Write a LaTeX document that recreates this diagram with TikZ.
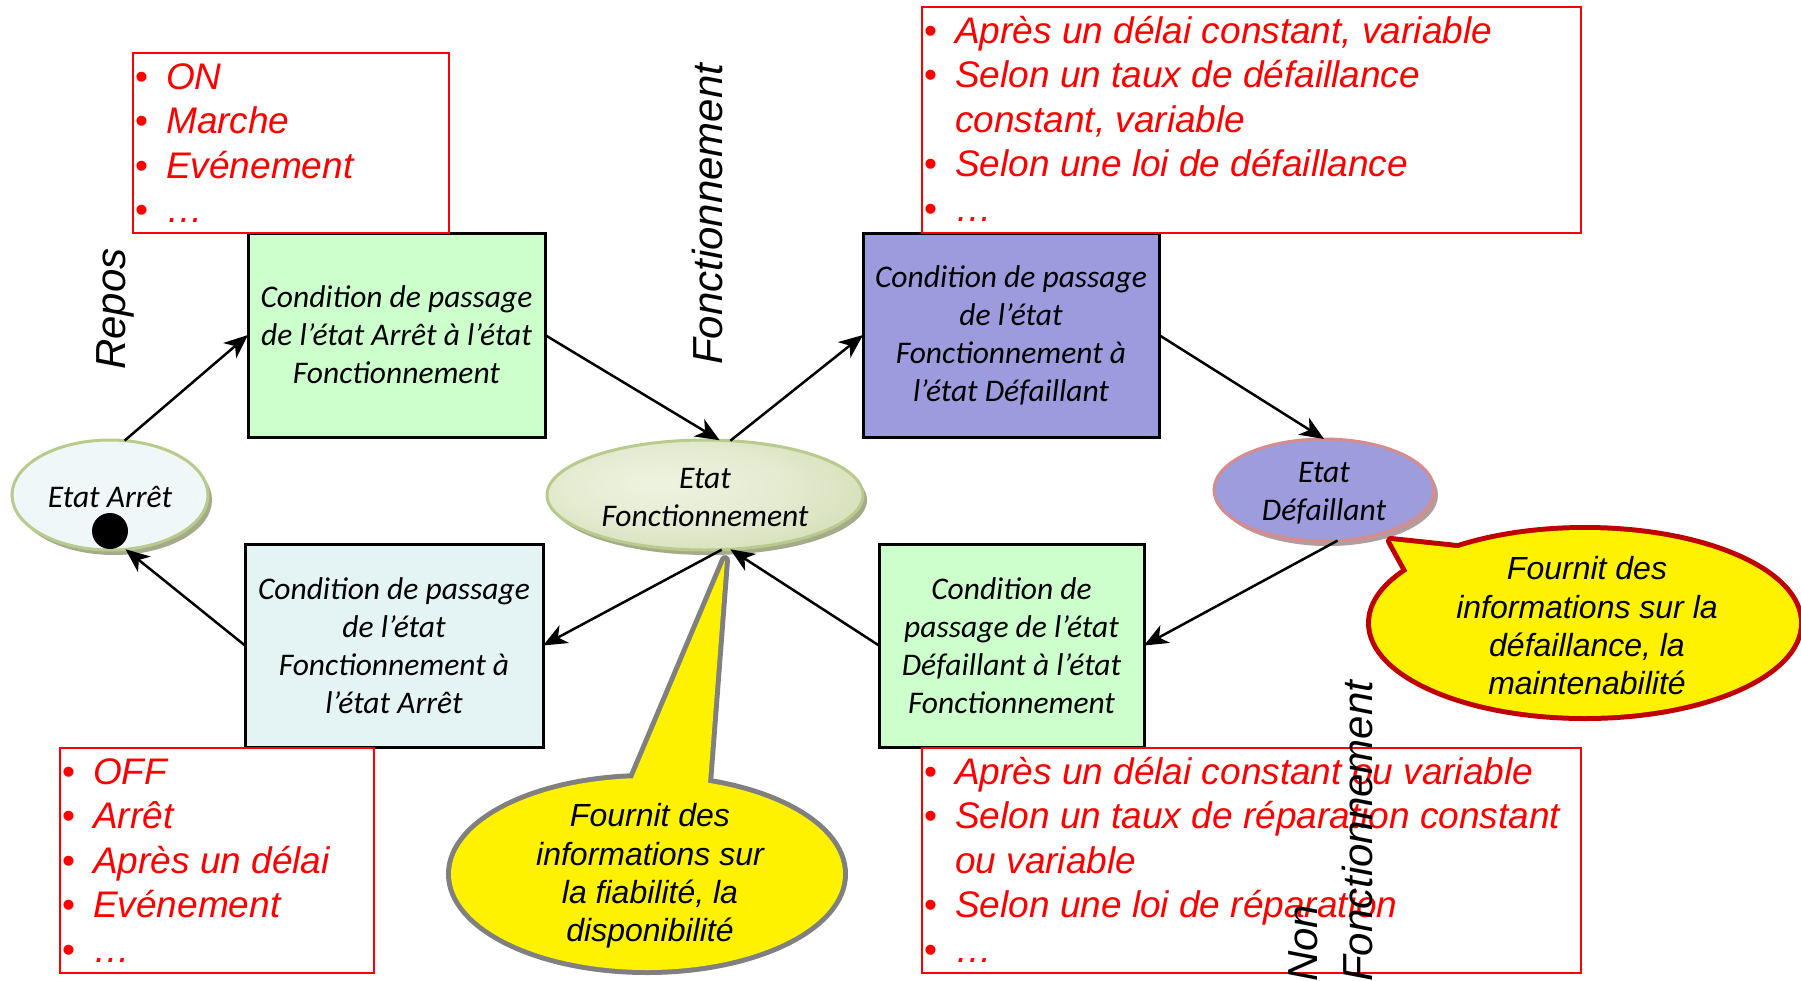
\documentclass[tikz,border=0pt]{standalone}
\usepackage{fontspec}
\setmainfont{Carlito}
\newfontfamily\ari{Liberation Sans}
\usetikzlibrary{arrows.meta,shapes.geometric}
\definecolor{condgreen}{HTML}{CCFFCC}
\definecolor{condpurple}{HTML}{9B9BDD}
\definecolor{condcyan}{HTML}{E4F4F4}
\definecolor{arretfill}{HTML}{EFF7F9}
\definecolor{ellborder}{HTML}{B8CB8C}
\definecolor{ellshadow}{HTML}{A3AB8A}
\definecolor{deffill}{HTML}{9D9DDD}
\definecolor{defborder}{HTML}{D68C8C}
\definecolor{defshadow}{HTML}{B39C9C}
\definecolor{bubgrey}{HTML}{808080}
\definecolor{bubred}{HTML}{C00000}
\definecolor{fcin}{HTML}{EEF2E0}
\definecolor{fcmida}{HTML}{E6ECD3}
\definecolor{fcmidb}{HTML}{CAD6A6}
\definecolor{fcout}{HTML}{C2D098}
\pgfdeclareradialshading{fcshade}{\pgfpoint{-8bp}{6bp}}{color(0bp)=(fcin); color(16bp)=(fcmida); color(42bp)=(fcmidb); color(50bp)=(fcout)}
\newcommand\bul{\makebox[31pt][l]{\upshape\textbullet}}
\newcommand\ind{\hspace*{31pt}}
\begin{document}
\begin{tikzpicture}[x=1pt,y=-1pt,
  cond/.style={draw=black, line width=3pt, inner sep=0pt, outer sep=0pt, align=center,
    font=\itshape\fontsize{31.5}{38}\selectfont},
  state/.style={ellipse, draw=ellborder, line width=3pt, inner sep=0pt, outer sep=0pt},
  stxt/.style={inner sep=0pt, align=center, font=\itshape\fontsize{31.5}{38}\selectfont},
  redbox/.style={draw=red, line width=2pt, inner sep=0pt, outer sep=0pt},
  redtxt/.style={inner sep=0pt, text=red, font=\ari\itshape\fontsize{37}{44.5}\selectfont},
  lbl/.style={inner sep=0pt, font=\ari\itshape\fontsize{42}{55}\selectfont},
  bubtxt/.style={inner sep=0pt, align=center, font=\ari\itshape\fontsize{32}{38.3}\selectfont},
  arr/.style={-{Stealth[length=24pt,width=20pt,inset=7pt]}, line width=2.5pt}]
\useasboundingbox (0,0) rectangle (1801,980);

% ellipse shadows
\fill[ellshadow] (114,500) ellipse [x radius=98, y radius=55];
\fill[ellshadow] (709,500) ellipse [x radius=158, y radius=55];
\fill[defshadow] (1328,495) ellipse [x radius=110, y radius=51];

% states
\node[state, fill=arretfill, minimum width=196, minimum height=110] (ea) at (110,495) {};
\node[stxt] (eat) at (110,497) {Etat Arrêt};
\node[circle, fill=black, minimum size=36, inner sep=0pt] (dot) at (110,531) {};
\node[state, shading=fcshade, minimum width=316, minimum height=110] (ef) at (705,495) {};
\node[stxt] (eft) at (705,498) {Etat\\Fonctionnement};
\node[state, fill=deffill, draw=defborder, minimum width=220, minimum height=102] (ed) at (1324,490) {};
\node[stxt] (edt) at (1324,493) {Etat\\Défaillant};

% condition boxes
\node[cond, fill=condgreen, minimum width=297, minimum height=204] (g1) at (396.5,335)
  {Condition de passage\\de l’état Arrêt à l’état\\Fonctionnement};
\node[cond, fill=condpurple, minimum width=296, minimum height=204] (pb) at (1011,335)
  {Condition de passage\\de l’état\\Fonctionnement à\\l’état Défaillant};
\node[cond, fill=condcyan, minimum width=298, minimum height=203] (cb) at (394,645.5)
  {Condition de passage\\de l’état\\Fonctionnement à\\l’état Arrêt};
\node[cond, fill=condgreen, minimum width=265, minimum height=203] (g2) at (1011.5,645.5)
  {Condition de\\passage de l’état\\Défaillant à l’état\\Fonctionnement};

% red lists
\node[redbox, minimum width=316, minimum height=180] (rtl) at (291,143) {};
\node[redbox, minimum width=659, minimum height=226] (rtr) at (1251.5,120) {};
\node[redbox, minimum width=314, minimum height=225] (rbl) at (217,860.5) {};
\node[redbox, minimum width=659, minimum height=225] (rbr) at (1251.5,860.5) {};
\node[redtxt, anchor=base west] (ltl) at (135,89)
  {\parbox[t]{300pt}{\bul ON\\\bul Marche\\\bul Evénement\\\bul …}};
\node[redtxt, anchor=base west] (ltr) at (924,43)
  {\parbox[t]{650pt}{\bul Après un délai constant, variable\\\bul Selon un taux de défaillance\\\ind constant, variable\\\bul Selon une loi de défaillance\\\bul …}};
\node[redtxt, anchor=base west] (lbl) at (62,784)
  {\parbox[t]{300pt}{\bul OFF\\\bul Arrêt\\\bul Après un délai\\\bul Evénement\\\bul …}};
\node[redtxt, anchor=base west] (lbr) at (924,784)
  {\parbox[t]{650pt}{\bul Après un délai constant ou variable\\\bul Selon un taux de réparation constant\\\ind ou variable\\\bul Selon une loi de réparation\\\bul …}};

% bubbles
\draw[bubgrey, line width=10pt, line join=round] (647,874) ellipse [x radius=196, y radius=96];
\draw[bubgrey, line width=10pt, line join=round] (725,560) -- (633,778) -- (650,840) -- (705,840) -- (708,783) -- cycle;
\fill[yellow] (647,874) ellipse [x radius=196, y radius=96];
\fill[yellow] (725,560) -- (633,778) -- (650,840) -- (705,840) -- (708,783) -- cycle;
\node[bubtxt] (b1) at (650,876) {Fournit des\\informations sur\\la fiabilité, la\\disponibilité};

\draw[bubred, line width=10pt, line join=round] (1585,623) ellipse [x radius=214, y radius=93];
\draw[bubred, line width=10pt, line join=round] (1391,541) -- (1408,572) -- (1460,610) -- (1500,600) -- (1466,549) -- cycle;
\fill[yellow] (1585,623) ellipse [x radius=214, y radius=93];
\fill[yellow] (1391,541) -- (1408,572) -- (1460,610) -- (1500,600) -- (1466,549) -- cycle;
\node[bubtxt] (b2) at (1587,626) {Fournit des\\informations sur la\\défaillance, la\\maintenabilité};

% arrows
\draw[arr] (ea.75) -- (g1.west);
\draw[arr] (g1.east) -- (ef.75);
\draw[arr] (ef.65) -- (pb.west);
\draw[arr] (pb.east) -- (ed.north);
\draw[arr] (ed.-75) -- (g2.east);
\draw[arr] (g2.west) -- (ef.-65);
\draw[arr] (ef.-73) -- (cb.east);
\draw[arr] (cb.west) -- (ea.-74);

% labels
\node[lbl, rotate=90, anchor=base west] (repos) at (125,370) {Repos};
\node[lbl, rotate=90, anchor=base west] (fonct) at (722,365) {Fonctionnement};
\node[lbl, rotate=90, anchor=base west] (nonf) at (1317,982) {\parbox[t]{400pt}{Non\\Fonctionnement}};
\end{tikzpicture}
\end{document}
